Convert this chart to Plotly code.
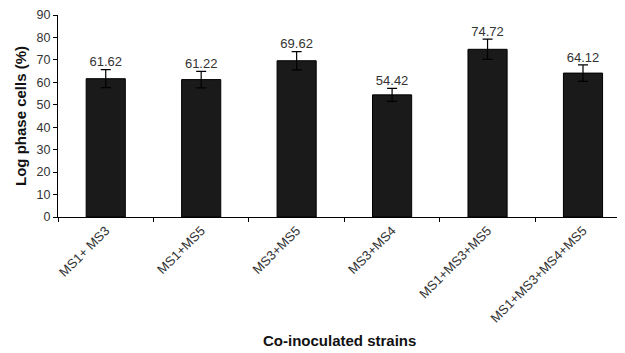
import plotly.graph_objects as go

categories = ["MS1+ MS3", "MS1+MS5", "MS3+MS5", "MS3+MS4", "MS1+MS3+MS5", "MS1+MS3+MS4+MS5"]
values = [61.62, 61.22, 69.62, 54.42, 74.72, 64.12]
errors = [4.0, 3.7, 4.1, 2.9, 4.5, 3.7]
labels = ["61.62", "61.22", "69.62", "54.42", "74.72", "64.12"]

FONT = "Liberation Sans, Arial, sans-serif"

fig = go.Figure()
fig.add_trace(go.Bar(
    x=categories, y=values, width=0.41,
    marker=dict(color="#1a1a1a", line=dict(color="#000000", width=1)),
    error_y=dict(type="data", array=errors, visible=True, color="#000000", thickness=1.2, width=5),
    showlegend=False, hoverinfo="skip",
))
fig.add_trace(go.Scatter(
    x=categories, y=[v + e for v, e in zip(values, errors)],
    mode="text", text=labels, textposition="top center",
    textfont=dict(family=FONT, size=13, color="#333"),
    showlegend=False, hoverinfo="skip", cliponaxis=False,
))

fig.update_layout(
    width=625, height=353,
    margin=dict(l=50, r=8, t=7, b=144),
    paper_bgcolor="white", plot_bgcolor="white",
    font=dict(family=FONT, size=12, color="#333"),
    xaxis=dict(
        range=[-0.5, 5.44],
        tickangle=-45, showline=True, linecolor="#000", linewidth=1,
        ticks="outside", ticklen=4, tickcolor="#000", tickson="boundaries",
        showgrid=False, automargin=False,
        tickfont=dict(size=13),
    ),
    yaxis=dict(
        range=[0, 90], dtick=10, showline=True, linecolor="#000", linewidth=1,
        ticks="outside", ticklen=4, tickcolor="#000", showgrid=False, zeroline=False,
        automargin=False, tickfont=dict(size=12.5),
        title=dict(text="<b>Log phase cells (%)</b>", font=dict(size=15, color="#111"), standoff=6),
    ),
    annotations=[dict(
        text="<b>Co-inoculated strains</b>", xref="paper", yref="paper",
        x=0.5, y=0, xanchor="center", yanchor="middle", yshift=-123, xshift=-2,
        showarrow=False, font=dict(family=FONT, size=15, color="#111"),
    )],
)
fig.write_html("out.html")
